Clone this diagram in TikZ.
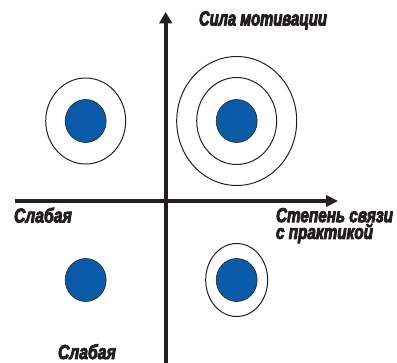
\documentclass[tikz,border=0pt]{standalone}
\usepackage{fontspec}
\newfontfamily\labelfont{Liberation Sans}[
  UprightFont={* Bold Italic},
  FakeStretch=0.72,
  FakeBold=4]
\newfontfamily\weakfont{Liberation Sans}[
  UprightFont={* Bold Italic},
  FakeStretch=0.78,
  FakeBold=4]
\newfontfamily\widefont{Liberation Sans}[
  UprightFont={* Bold Italic},
  FakeStretch=0.755,
  FakeBold=4]
\usetikzlibrary{arrows.meta}
\definecolor{dotblue}{HTML}{0A5CA8}
\definecolor{inkblack}{HTML}{231F20}

\begin{document}
\begin{tikzpicture}[x=0.025cm, y=-0.025cm, every node/.style={outer sep=0pt}]

\def\xAxis{165.7}
\def\yAxis{201}
\def\xLeft{85.7}
\def\xRight{236.7}
\def\yTop{121}
\def\yLow{280}

\useasboundingbox (0,0) rectangle (397,363);

% Axes
\coordinate (yStart) at (\xAxis,363);
\coordinate (yEnd) at (\xAxis,12);
\coordinate (xStart) at (15,\yAxis);
\coordinate (xEnd) at (338,\yAxis);
\draw[inkblack, line width=2.8pt, -{Triangle[length=8pt, width=8.8pt]}] (yStart) -- (yEnd);
\draw[inkblack, line width=2.8pt, -{Triangle[length=8.5pt, width=8pt]}] (xStart) -- (xEnd);

% Rings
\draw[inkblack, line width=0.7pt] (\xLeft,\yTop) ellipse [x radius=40, y radius=43];
\draw[inkblack, line width=0.7pt] (\xRight,\yTop) ellipse [x radius=40, y radius=43.5];
\draw[inkblack, line width=0.7pt] (\xRight,\yTop) ellipse [x radius=60, y radius=64.5];
\draw[inkblack, line width=0.7pt] (\xRight,\yLow) ellipse [x radius=31, y radius=36.5];

% Dots
\foreach \x/\y in {\xLeft/\yTop, \xRight/\yTop, \xLeft/\yLow, \xRight/\yLow}{
  \fill[dotblue, draw=inkblack, line width=0.4pt] (\x,\y) ellipse [x radius=20.5, y radius=21.5];
}

% Axis labels
\node[
  font=\labelfont\fontsize{14.6}{10.2}\selectfont,
  text=inkblack,
  anchor=base west,
  inner sep=0pt
] (motivLabel) at (199,25.5) {Сила мотивации};
\node[
  font=\weakfont\fontsize{14.4}{10.2}\selectfont,
  text=inkblack,
  anchor=base west,
  inner sep=0pt
] (weakLeft) at (14,222.5) {Слабая};
\node[
  font=\weakfont\fontsize{14.4}{10.2}\selectfont,
  text=inkblack,
  anchor=base west,
  inner sep=0pt
] (weakBottom) at (58,359) {Слабая};
\node[
  font=\widefont\fontsize{14.4}{10.2}\selectfont,
  text=inkblack,
  align=left,
  anchor=north west,
  inner sep=0pt
] (practiceLabel) at (276,208) {Степень связи\\с практикой};

\end{tikzpicture}
\end{document}
